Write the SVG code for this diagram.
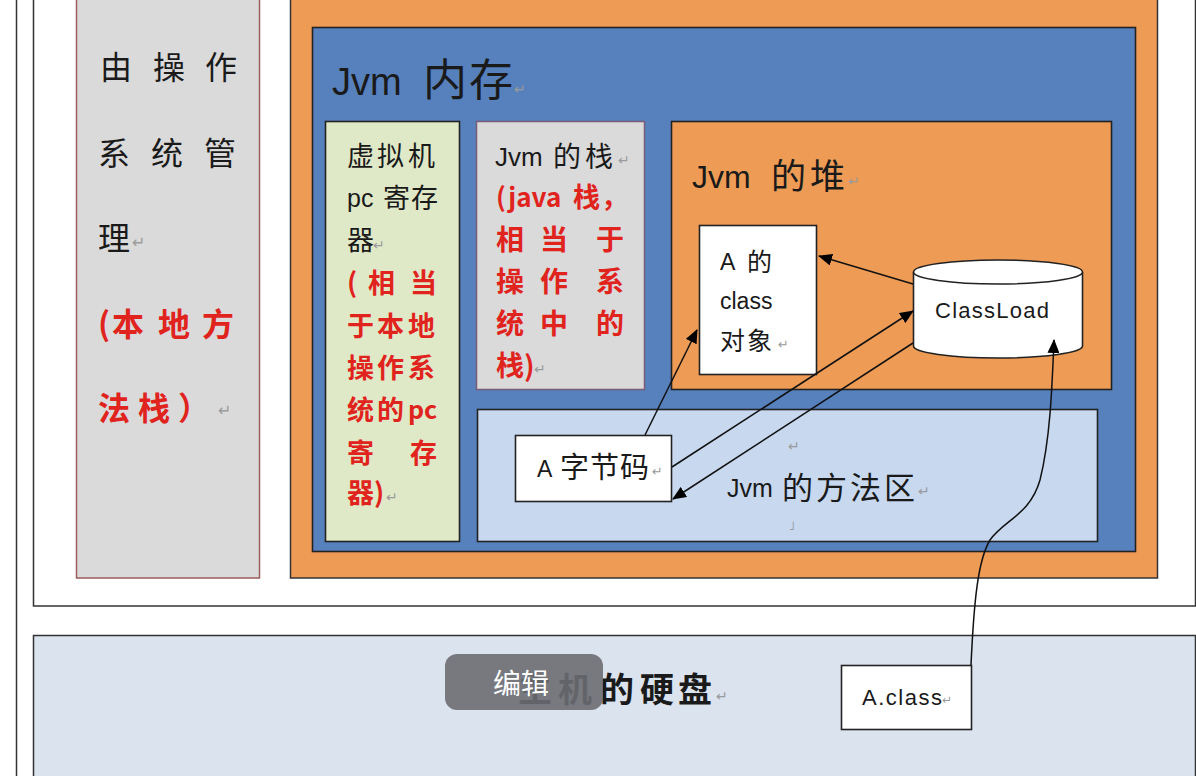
<svg xmlns="http://www.w3.org/2000/svg" width="1196" height="776" viewBox="0 0 1196 776">
<defs>
<style>
.cjk{font-family:"Noto Sans CJK SC","Liberation Sans",sans-serif;fill:#1a1a1a}
.lat{font-family:"Liberation Sans","Noto Sans CJK SC",sans-serif;fill:#1a1a1a}
.red{font-family:"Noto Sans CJK SC","Liberation Sans",sans-serif;fill:#e0231c;font-weight:bold}
.pm{font-family:"DejaVu Sans",sans-serif;fill:#9a9a9a}
.box{stroke:#222;stroke-width:1.6}
.con{stroke:#111;stroke-width:1.5;fill:none}
</style>
<marker id="ah" viewBox="0 0 14 12" refX="13" refY="6" markerWidth="14" markerHeight="12" markerUnits="userSpaceOnUse" orient="auto">
<path d="M0,0 L14,6 L0,12 z" fill="#000"/>
</marker>
</defs>
<rect width="1196" height="776" fill="#fff"/>
<line x1="16.5" y1="0" x2="16.5" y2="776" stroke="#333" stroke-width="1.5"/>
<g id="os-frame">
<rect x="33.5" y="-10" width="1162" height="616" fill="#fff" stroke="#333" stroke-width="1.5"/>
</g>
<g id="native-stack">
<rect x="76.5" y="-10" width="183" height="588" fill="#dadada" stroke="#9b5c5c" stroke-width="1.5"/>
<text class="cjk" font-size="32" x="100 153 205" y="79">由操作</text>
<text class="cjk" font-size="32" x="98 151 204" y="165">系统管</text>
<text class="cjk" font-size="32" x="98" y="250">理</text>
<text class="pm" font-size="16" x="132" y="248">↵</text>
<text class="red" font-size="32" x="98 112 158 202" y="336">(本地方</text>
<text class="red" font-size="32" x="98 138 178" y="420">法栈）</text>
<text class="pm" font-size="16" x="218" y="416">↵</text>
</g>
<g id="process-memory">
<rect x="290.5" y="-10" width="867" height="588" fill="#ee9b56" stroke="#333" stroke-width="1.5"/>
</g>
<g id="jvm-memory">
<rect x="312.5" y="27.5" width="823" height="524" fill="#5681bd" class="box"/>
<text class="lat" font-size="38" x="332" y="95">Jvm</text>
<text class="cjk" font-size="44" x="423 469" y="96">内存</text>
<text class="pm" font-size="14" x="514" y="94">↵</text>
</g>
<g id="pc-register">
<rect x="325.5" y="121.5" width="134" height="420" fill="#e0e9c7" class="box"/>
<text class="cjk" font-size="27" x="347 377 408" y="166">虚拟机</text>
<text class="lat" font-size="25" x="347" y="207">pc</text>
<text class="cjk" font-size="27" x="383 411" y="208">寄存</text>
<text class="cjk" font-size="27" x="347" y="250">器</text>
<text class="pm" font-size="14" x="373" y="250">↵</text>
<text class="red" font-size="27" x="347 368 410" y="293">(相当</text>
<text class="red" font-size="27" x="347 377 408" y="336">于本地</text>
<text class="red" font-size="27" x="347 377 408" y="378">操作系</text>
<text class="red" font-size="27" x="347 377" y="420">统的</text>
<text class="red" font-size="25" x="408" y="419" font-family="Liberation Sans">pc</text>
<text class="red" font-size="27" x="347 410" y="463">寄存</text>
<text class="red" font-size="27" x="347 374" y="503">器)</text>
<text class="pm" font-size="14" x="386" y="502">↵</text>
</g>
<g id="java-stack">
<rect x="476.5" y="121.5" width="168" height="268" fill="#dadada" stroke="#7a5b78" stroke-width="1.5"/>
<text class="lat" font-size="26" x="495" y="166">Jvm</text>
<text class="cjk" font-size="28" x="553 585" y="167">的栈</text>
<text class="pm" font-size="14" x="618" y="165">↵</text>
<text class="red" font-size="26" x="496" y="207" font-family="Liberation Sans">(java</text>
<text class="red" font-size="27" x="573 601" y="207">栈，</text>
<text class="red" font-size="28" x="496 540 596" y="250">相当于</text>
<text class="red" font-size="28" x="496 540 596" y="292">操作系</text>
<text class="red" font-size="28" x="496 540 596" y="334">统中的</text>
<text class="red" font-size="28" x="496 524" y="376">栈)</text>
<text class="pm" font-size="14" x="534" y="374">↵</text>
</g>
<g id="jvm-heap">
<rect x="671.5" y="121.5" width="440" height="268" fill="#ee9b56" class="box"/>
<text class="lat" font-size="32" x="692" y="188">Jvm</text>
<text class="cjk" font-size="35" x="771 810" y="189">的堆</text>
<text class="pm" font-size="14" x="848" y="186">↵</text>
</g>
<g id="class-object">
<rect x="699.5" y="225.5" width="117" height="149" fill="#fff" class="box"/>
<text class="lat" font-size="23" x="720" y="270">A</text>
<text class="cjk" font-size="25" x="747" y="271">的</text>
<text class="lat" font-size="23" x="720" y="309">class</text>
<text class="cjk" font-size="25" x="720 747" y="350">对象</text>
<text class="pm" font-size="13" x="778" y="349">↵</text>
</g>
<g id="classload">
<path d="M913.5,272 L913.5,346 A84.5,12 0 0 0 1082.5,346 L1082.5,272" fill="#fff" class="box"/>
<ellipse cx="998" cy="272" rx="84.5" ry="12" fill="#fff" class="box"/>
<text class="lat" font-size="22" x="935" y="318" textLength="114">ClassLoad</text>
</g>
<g id="method-area">
<rect x="477.5" y="409.5" width="620" height="132" fill="#c7d8ef" class="box"/>
<text class="pm" font-size="14" x="788" y="451">↵</text>
<text class="lat" font-size="25" x="727" y="497">Jvm</text>
<text class="cjk" font-size="31" x="782 816 850 884" y="499">的方法区</text>
<text class="pm" font-size="14" x="918" y="496">↵</text>
<text class="pm" font-size="12" x="789" y="530">˩</text>
</g>
<g id="bytecode">
<rect x="515.5" y="435.5" width="156" height="66" fill="#fff" class="box"/>
<text class="lat" font-size="23" x="537" y="477">A</text>
<text class="cjk" font-size="29" x="560 590 620" y="478">字节码</text>
<text class="pm" font-size="13" x="652" y="476">↵</text>
</g>
<g id="disk">
<rect x="33.5" y="635.5" width="1162" height="150" fill="#dbe3ef" stroke="#333" stroke-width="1.5"/>
<text class="cjk" font-size="34" x="518 558 600 640 678" y="702" font-weight="bold">主机的硬盘</text>
<text class="pm" font-size="14" x="716" y="701">↵</text>
</g>
<g id="a-class">
<rect x="841.5" y="665.5" width="130" height="64" fill="#fff" class="box"/>
<text class="lat" font-size="22" x="862" y="705" textLength="80">A.class</text>
<text class="pm" font-size="12" x="942" y="704">↵</text>
</g>
<g id="connectors">
<line class="con" x1="913" y1="284" x2="819" y2="256" marker-end="url(#ah)"/>
<line class="con" x1="645" y1="435" x2="697" y2="330" marker-end="url(#ah)"/>
<line class="con" x1="672" y1="467" x2="913" y2="311" marker-end="url(#ah)"/>
<line class="con" x1="913" y1="343" x2="673" y2="499" marker-end="url(#ah)"/>
<path class="con" d="M971,665 C974,600 978,560 990,540 C1004,520 1030,515 1040,480 C1050,440 1052,390 1054,340" marker-end="url(#ah)"/>
</g>
<g id="edit-overlay">
<rect x="445" y="654" width="158" height="56" rx="12" fill="#6c6d72" fill-opacity="0.9"/>
<text font-family="Noto Sans CJK SC,sans-serif" font-size="28" fill="#fff" x="493" y="694">编辑</text>
</g>
</svg>
